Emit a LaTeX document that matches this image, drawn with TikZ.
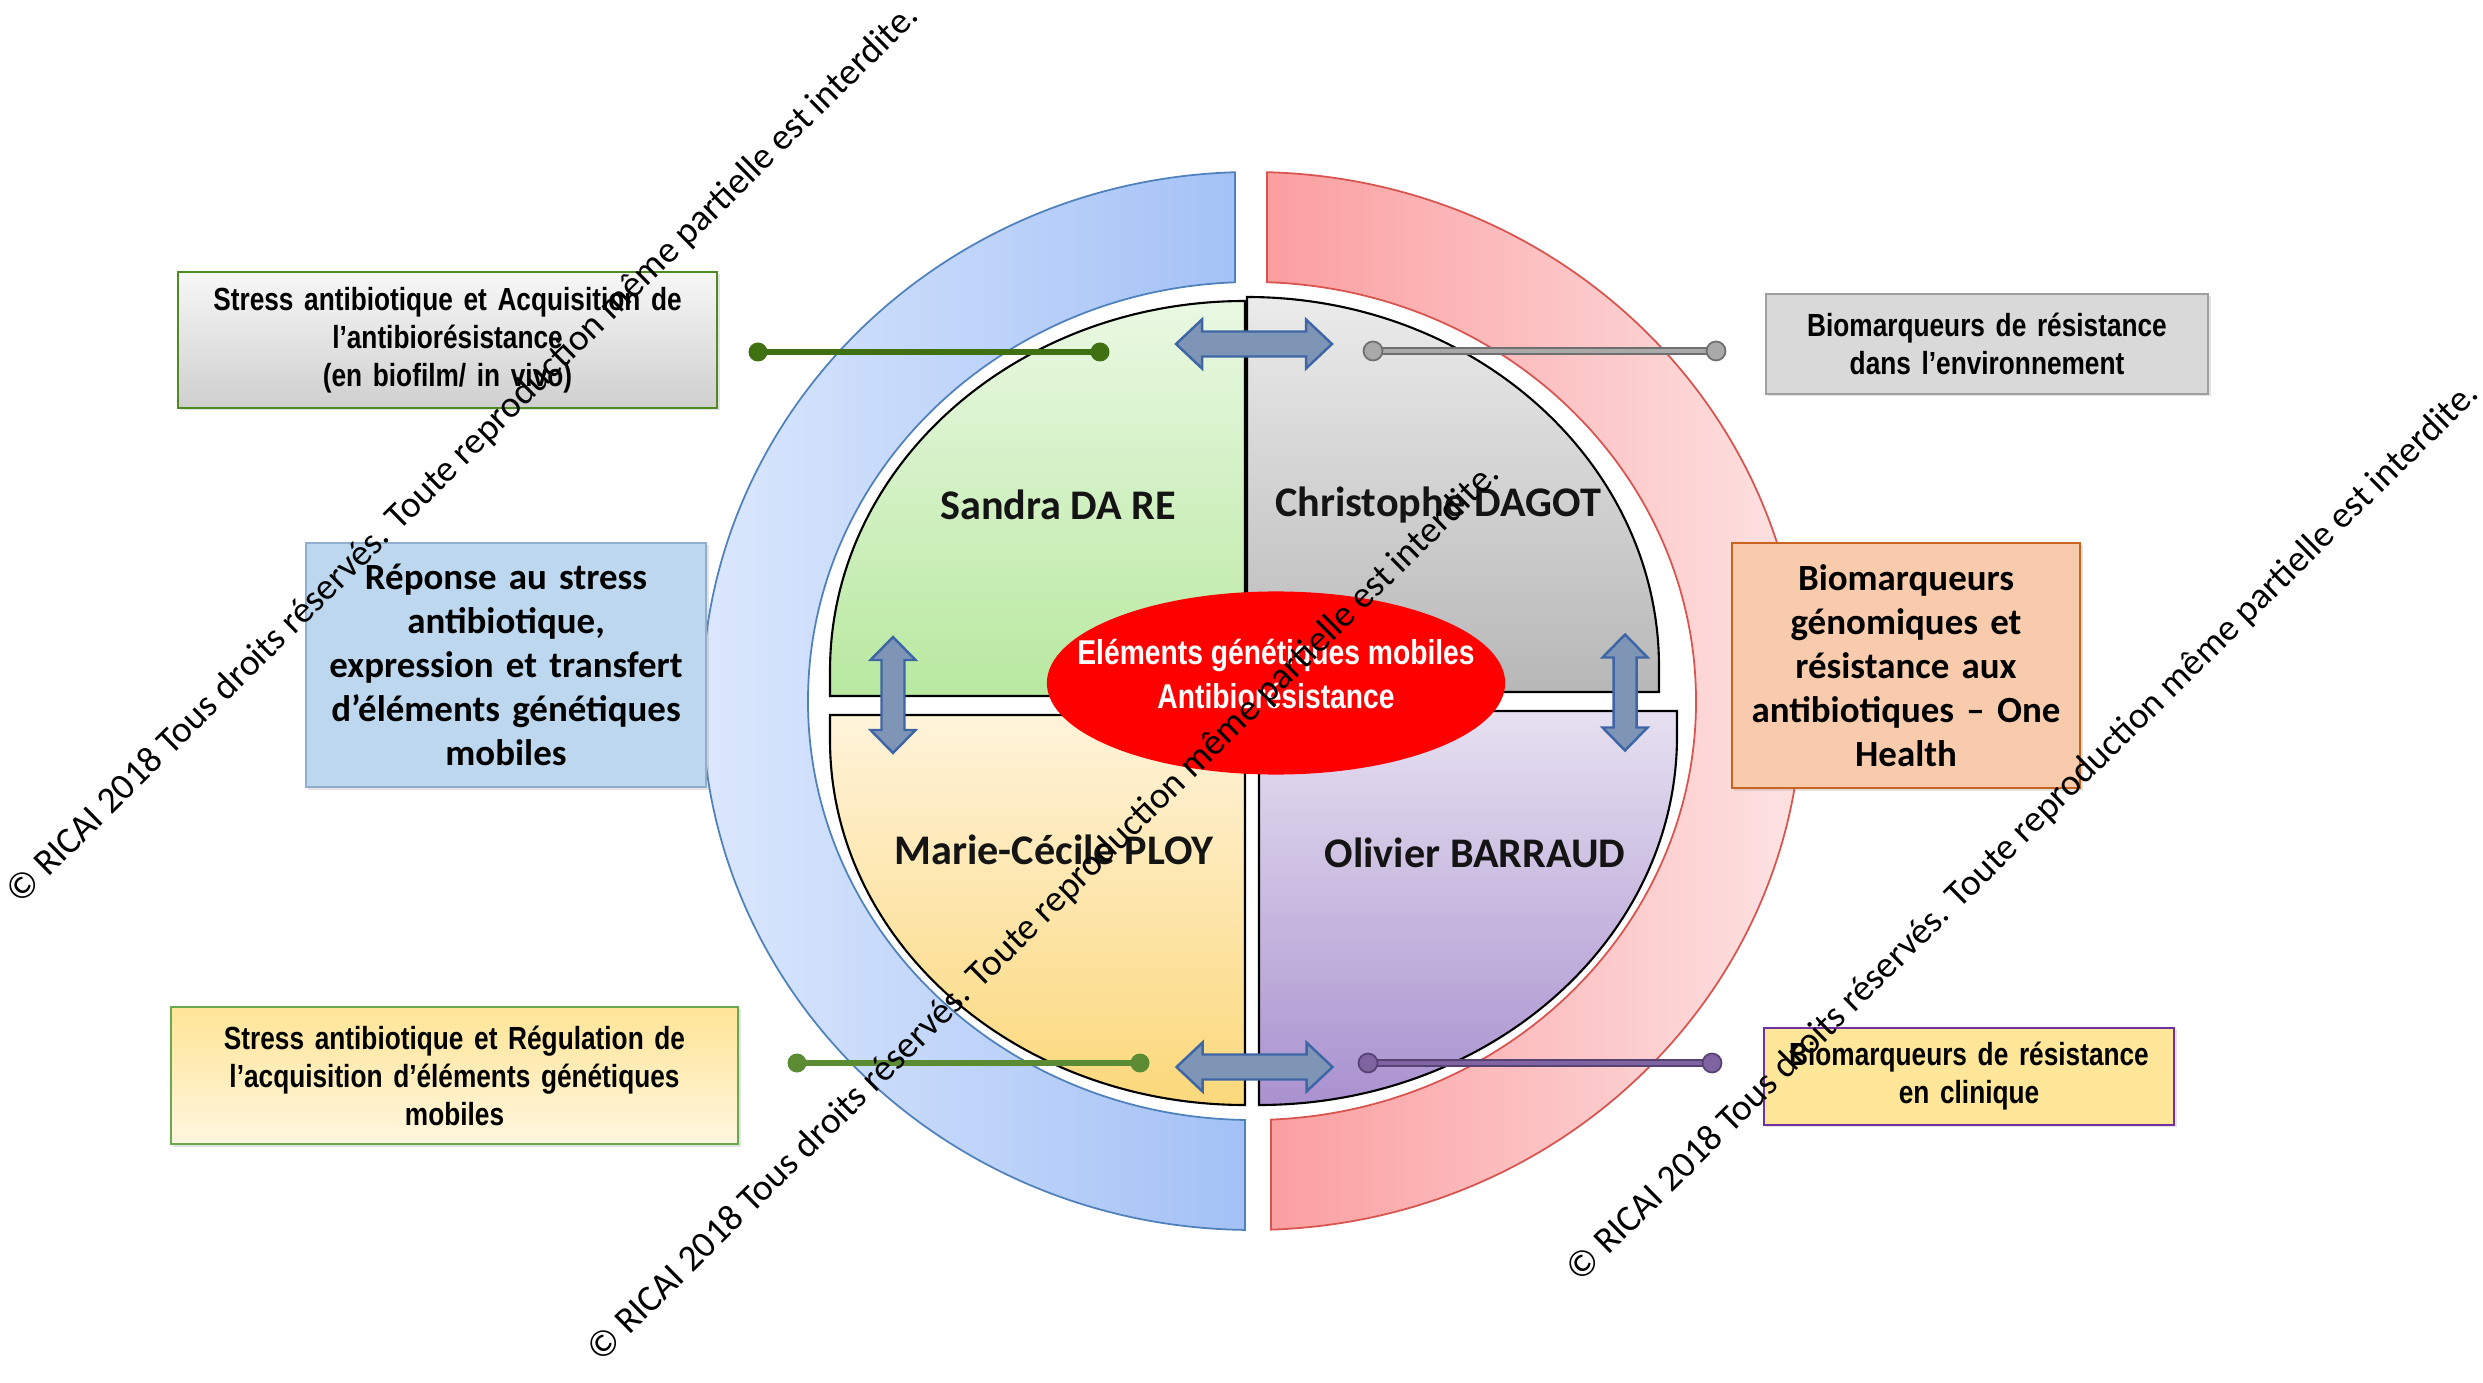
\documentclass[tikz,border=0pt]{standalone}
\usepackage{fontspec}
\setmainfont{Carlito}
\newfontfamily\narrowsans[FakeStretch=0.82]{Liberation Sans}
\usetikzlibrary{shapes.geometric,shadows}

% ring colours
\definecolor{ringBlueL}{HTML}{DCE8FD}
\definecolor{ringBlueR}{HTML}{A3C1F6}
\definecolor{ringBlueEdge}{HTML}{4F81BD}
\definecolor{ringRedL}{HTML}{FB9EA0}
\definecolor{ringRedR}{HTML}{FDE4E4}
\definecolor{ringRedEdge}{HTML}{D9534F}
% quadrant colours
\definecolor{greenTop}{HTML}{EAF8E3}
\definecolor{greenBot}{HTML}{B8E9A0}
\definecolor{grayTop}{HTML}{EBEBEB}
\definecolor{grayBot}{HTML}{B7B7B7}
\definecolor{yellowTop}{HTML}{FFF3DA}
\definecolor{yellowBot}{HTML}{FBD87A}
\definecolor{purpleTop}{HTML}{E6E0F0}
\definecolor{purpleBot}{HTML}{A991CF}
% block arrows
\definecolor{arrowFill}{HTML}{7F95B6}
\definecolor{arrowEdge}{HTML}{3E66A6}
% side boxes
\definecolor{boxOneTop}{HTML}{F7F7F7}
\definecolor{boxOneBot}{HTML}{CFCFCF}
\definecolor{boxOneEdge}{HTML}{4E8A22}
\definecolor{boxTwoFill}{HTML}{D9D9D9}
\definecolor{boxTwoEdge}{HTML}{A0A0A0}
\definecolor{boxThreeFill}{HTML}{BDD7EE}
\definecolor{boxThreeEdge}{HTML}{92AECF}
\definecolor{boxFourFill}{HTML}{F8CBAD}
\definecolor{boxFourEdge}{HTML}{C9631D}
\definecolor{boxFiveTop}{HTML}{FFE597}
\definecolor{boxFiveBot}{HTML}{FFF6DE}
\definecolor{boxFiveEdge}{HTML}{6AA84F}
\definecolor{boxSixFill}{HTML}{FFE699}
\definecolor{boxSixEdge}{HTML}{7030A0}
% link lines
\definecolor{linkGreenDark}{HTML}{3F7112}
\definecolor{linkGreenLight}{HTML}{5B8C33}
\definecolor{linkGray}{HTML}{A9A9A9}
\definecolor{linkGrayEdge}{HTML}{6F6F6F}
\definecolor{linkPurple}{HTML}{8064A2}
\definecolor{linkPurpleEdge}{HTML}{574373}

\begin{document}
\begin{tikzpicture}[
  x=0.01cm, y=-0.01cm,
  quad/.style={draw=black, line width=0.6pt},
  infobox/.style={draw, line width=0.7pt, inner sep=0pt, align=center,
    drop shadow={opacity=0.22, shadow xshift=0.7pt, shadow yshift=-0.7pt}},
  narrowtxt/.style={font=\narrowsans\bfseries\fontsize{9.1}{10.8}\selectfont},
  bodytxt/.style={font=\bfseries\fontsize{10.5}{12.55}\selectfont},
  person/.style={font=\bfseries\fontsize{12}{14}\selectfont, text=black!92, anchor=base},
  blockarrow/.style={fill=arrowFill, draw=arrowEdge, line width=0.7pt, line join=miter},
  linkline/.style={line width=1.6pt},
  watermark/.style={font=\fontsize{10.6}{12}\selectfont, rotate=44.6, anchor=base, inner sep=0pt},
  pics/harrow/.style={code={
    \path[blockarrow] (-78,0) -- (-52,-24.5) -- (-52,-12.5) -- (52,-12.5) -- (52,-24.5)
      -- (78,0) -- (52,24.5) -- (52,12.5) -- (-52,12.5) -- (-52,24.5) -- cycle;}},
  pics/varrow/.style={code={
    \path[blockarrow] (0,-58) -- (-22.5,-35) -- (-11.5,-35) -- (-11.5,35) -- (-22.5,35)
      -- (0,58) -- (22.5,35) -- (11.5,35) -- (11.5,-35) -- (22.5,-35) -- cycle;}},
]
\useasboundingbox (0,0) rectangle (2483,1383);
\fill[white] (0,0) rectangle (2483,1383);

% outer ring: blue left half
\path[draw=ringBlueEdge, line width=0.5pt, left color=ringBlueL, right color=ringBlueR]
  (1235,172.25) arc[start angle=268.23, end angle=90.73, x radius=550, y radius=529]
  -- (1245,1119.95) arc[start angle=90.90, end angle=267.81, x radius=444, y radius=419]
  -- cycle;
% outer ring: red right half
\path[draw=ringRedEdge, line width=0.5pt, left color=ringRedL, right color=ringRedR]
  (1267,172.2) arc[start angle=-88.44, end angle=88.02, x radius=550, y radius=529]
  -- (1271,1119.6) arc[start angle=87.55, end angle=-88.06, x radius=444, y radius=419]
  -- cycle;

% four quadrants
\path[quad, top color=greenTop, bottom color=greenBot]
  (1245,696) -- (830,696) -- (830,671)
  arc[start angle=180, end angle=270, x radius=415, y radius=370] -- cycle;
\path[quad, top color=grayTop, bottom color=grayBot]
  (1247,692) -- (1247,297)
  arc[start angle=270, end angle=360, x radius=412, y radius=370] -- (1659,692) -- cycle;
\path[quad, top color=yellowTop, bottom color=yellowBot]
  (1245,715) -- (830,715) -- (830,740)
  arc[start angle=180, end angle=90, x radius=415, y radius=365] -- cycle;
\path[quad, top color=purpleTop, bottom color=purpleBot]
  (1259,711) -- (1677,711) -- (1677,736)
  arc[start angle=0, end angle=90, x radius=418, y radius=369] -- cycle;

% names of the four teams
\node[person] (sandra)  at (1058,520) {Sandra DA RE};
\node[person] (dagot)   at (1438,517) {Christophe DAGOT};
\node[person] (ploy)    at (1054,864) {Marie-Cécile PLOY};
\node[person] (barraud) at (1475,867) {Olivier BARRAUD};

% central theme
\node[ellipse, fill=red, minimum width=4.58cm, minimum height=1.83cm, inner sep=0pt]
  (core) at (1276,683) {};
\node[text=white, align=center, inner sep=0pt,
      font=\narrowsans\bfseries\fontsize{9.8}{12.5}\selectfont]
  (coretext) at (1276,674) {Eléments génétiques mobiles\\Antibiorésistance};

% exchange arrows between quadrants
\pic (arrowtop) at (1254,344) {harrow};
\pic (arrowbottom) at (1254.5,1067) {harrow};
\pic (arrowleft) at (893,695) {varrow};
\pic (arrowright) at (1625,692.5) {varrow};

% link lines with round ends
\coordinate (gA1) at (758,352);  \coordinate (gA2) at (1100,352);
\coordinate (yA1) at (797,1063); \coordinate (yA2) at (1140,1063);
\coordinate (gr1) at (1373,351); \coordinate (gr2) at (1716,351);
\coordinate (pu1) at (1368,1063);\coordinate (pu2) at (1712,1063);

\draw[linkline, linkGreenDark] (gA1) -- (gA2);
\fill[linkGreenDark] (gA1) circle[radius=9.5] (gA2) circle[radius=9.5];
\draw[linkline, linkGreenLight] (yA1) -- (yA2);
\fill[linkGreenLight] (yA1) circle[radius=9.5] (yA2) circle[radius=9.5];
\draw[line width=2pt, linkGrayEdge] (gr1) -- (gr2);
\draw[line width=1.2pt, linkGray] (gr1) -- (gr2);
\filldraw[fill=linkGray, draw=linkGrayEdge, line width=0.5pt] (gr1) circle[radius=9.5] (gr2) circle[radius=9.5];
\draw[line width=2pt, linkPurpleEdge] (pu1) -- (pu2);
\draw[line width=1.2pt, linkPurple] (pu1) -- (pu2);
\filldraw[fill=linkPurple, draw=linkPurpleEdge, line width=0.5pt] (pu1) circle[radius=9.5] (pu2) circle[radius=9.5];

% side boxes
\node[infobox, narrowtxt, draw=boxOneEdge, top color=boxOneTop, bottom color=boxOneBot,
      minimum width=5.39cm, minimum height=1.36cm, text width=5.2cm]
  (acq) at (447.5,340)
  {Stress antibiotique et Acquisition de\\l’antibiorésistance\\(en biofilm/ in vivo)};
\node[infobox, narrowtxt, draw=boxTwoEdge, fill=boxTwoFill,
      minimum width=4.42cm, minimum height=1.0cm, text width=4.3cm]
  (env) at (1987,344)
  {Biomarqueurs de résistance\\dans l’environnement};
\node[infobox, bodytxt, draw=boxThreeEdge, fill=boxThreeFill,
      minimum width=4.0cm, minimum height=2.44cm, text width=3.9cm]
  (rep) at (506,665)
  {Réponse au stress\\antibiotique,\\expression et transfert\\d’éléments génétiques\\mobiles};
\node[infobox, bodytxt, draw=boxFourEdge, fill=boxFourFill,
      minimum width=3.48cm, minimum height=2.45cm, text width=3.4cm]
  (gen) at (1906,665.5)
  {Biomarqueurs\\génomiques et\\résistance aux\\antibiotiques – One\\Health};
\node[infobox, narrowtxt, draw=boxFiveEdge, top color=boxFiveTop, bottom color=boxFiveBot,
      minimum width=5.67cm, minimum height=1.37cm, text width=5.5cm]
  (reg) at (454.5,1075.5)
  {Stress antibiotique et Régulation de\\l’acquisition d’éléments génétiques\\mobiles};
\node[infobox, narrowtxt, draw=boxSixEdge, fill=boxSixFill,
      minimum width=4.10cm, minimum height=0.97cm, text width=4.0cm]
  (cli) at (1969,1076.5)
  {Biomarqueurs de résistance\\en clinique};

% copyright lines
\node[watermark] (wmA) at (470,462)
  {© RICAI 2018 Tous droits réservés. Toute reproduction même partielle est interdite.};
\node[watermark] (wmB) at (1051,920)
  {© RICAI 2018 Tous droits réservés. Toute reproduction même partielle est interdite.};
\node[watermark] (wmC) at (2030,840)
  {© RICAI 2018 Tous droits réservés. Toute reproduction même partielle est interdite.};
\end{tikzpicture}
\end{document}
